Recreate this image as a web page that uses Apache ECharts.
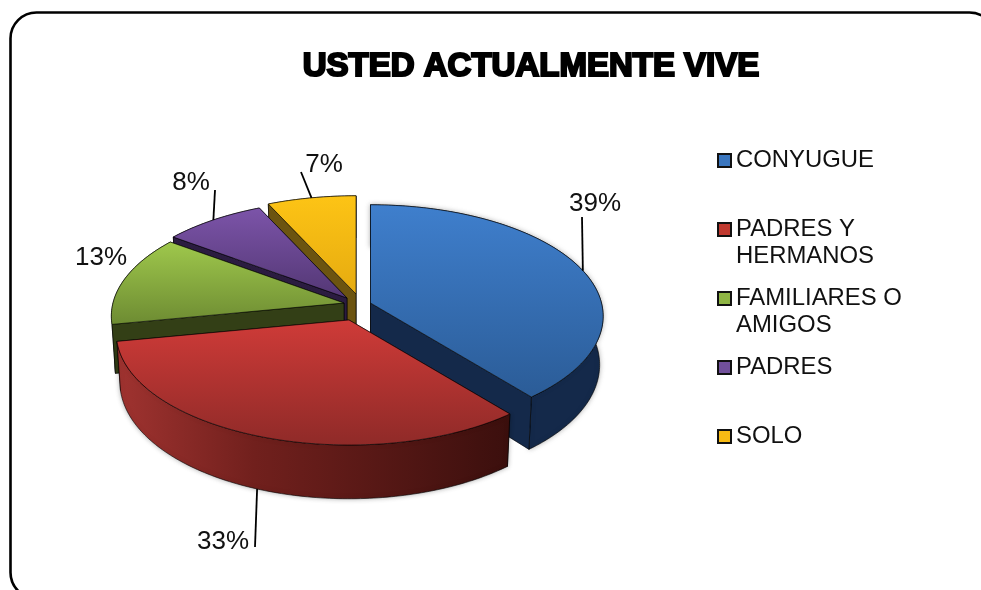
<!DOCTYPE html>
<html><head><meta charset="utf-8">
<style>html,body{margin:0;padding:0;background:#fff}#c{width:981px;height:590px}</style>
<script src="https://cdn.jsdelivr.net/npm/echarts@6/dist/echarts.min.js"></script>
</head><body><div id="c"></div>
<script>
const categories = ['CONYUGUE','PADRES Y\nHERMANOS','FAMILIARES O\nAMIGOS','PADRES','SOLO'];
const values = [39,33,13,8,7];
const titleText = 'USTED ACTUALMENTE VIVE';

// Look of each slice: top-face gradient, wall colour
const topColors = [['#3f7fcd','#2b5c97'],['#cf3b38','#8f2a28'],['#9fc84c','#6d8b32'],['#7c54a9','#533774'],['#fdc415','#e6ab10']];
const legendColors = ['#3a76bf','#c0392f','#8fb544','#71509b','#f8bb14'];
const wallColors = ['#14294a','#6b1d1a','#333f16','#2b1c40','#6c5410'];
// Exploded apex of each slice, leader tips and label centres (layout only)
const apexes = [[370.5,303],[349,320],[344,303],[347,298],[356,294]];
const leaderEnds = [[582,217],[255,547],null,[215,190],[301,172]];
const leaderAngleShift = [2.3,1.5,0,0,0];
const labelCenters = [[595,204],[223,542],[101,258],[191,183],[324,165]];
const RX = 231, RY = 111.6, K = 0.12, DEPTH = 48, BOTTOM_SCALE = 0.985;
const FONT = '"Liberation Sans", Arial, sans-serif';

const total = values.reduce((a,b)=>a+b,0);
const starts = []; values.reduce((acc,v,i)=>{starts[i]=acc; return acc+v/total*360;},0);

function project(i, deg, r, down){
  const t = deg*Math.PI/180, u = Math.sin(t)*r, v = -Math.cos(t)*r, s = 1+K*v;
  return [apexes[i][0]+RX*u*s*(down?BOTTOM_SCALE:1), apexes[i][1]+RY*v*s+(down?DEPTH*s:0)];
}
function renderSlice(i){
  const a0 = starts[i], a1 = a0+values[i]/total*360;
  const wt=[], wb=[];
  for(let a=a0;;a+=1){const d=Math.min(a,a1); wt.push(project(i,d,1,false)); wb.push(project(i,d,1,true)); if(d>=a1)break;}
  const ap = project(i,0,0,false), apB = project(i,0,0,true);
  const edge = {stroke:'rgba(0,0,0,0.75)', lineWidth:0.8};
  const wall = {fill:wallColors[i], ...edge};
  const outerFill = i===1
    ? {type:'linear',x:0,y:0,x2:1,y2:0,colorStops:[{offset:0,color:'#a03330'},{offset:.35,color:'#71201d'},{offset:1,color:'#3b0f0d'}]}
    : wallColors[i];
  const shadow = i<2 ? {shadowBlur:5,shadowColor:'rgba(0,0,0,0.3)'} : {};
  const startFace = {type:'polygon',shape:{points:[ap,wt[0],wb[0],apB]},style:wall};
  const endFace = {type:'polygon',shape:{points:[ap,wt[wt.length-1],wb[wb.length-1],apB]},style:wall};
  const startFront = Math.sin(a0*Math.PI/180) < -1e-6;
  const endFront = Math.sin(a1*Math.PI/180) > 1e-6;
  const children = [];
  if(!startFront) children.push(startFace);
  if(!endFront) children.push(endFace);
  children.push({type:'polygon',shape:{points:wt.concat(wb.slice().reverse())},style:{fill:outerFill,...edge,...shadow}});
  if(endFront) children.push(endFace);
  if(startFront) children.push(startFace);
  children.push({type:'polygon',shape:{points:[ap].concat(wt)},
     style:{fill:{type:'linear',x:0,y:0,x2:0,y2:1,colorStops:[{offset:0,color:topColors[i][0]},{offset:1,color:topColors[i][1]}]},...edge}});
  if(leaderEnds[i]){
    const mid=(a0+a1)/2+leaderAngleShift[i], onFront = Math.cos(mid*Math.PI/180)<-0.5;
    const p = project(i,mid,1,onFront);
    children.push({type:'polyline',shape:{points:[p,leaderEnds[i]]},style:{stroke:'#000',lineWidth:1.8,fill:null}});
  }
  children.push({type:'text',x:labelCenters[i][0],y:labelCenters[i][1],
    style:{text:values[i]+'%',fill:'#111',font:'26px '+FONT,align:'center',verticalAlign:'middle'}});
  return {type:'group',children};
}

const zOrder = [6,8,5,4,3];
const chart = echarts.init(document.getElementById('c'),null,{renderer:'canvas'});
chart.setOption({
  animation:false,
  backgroundColor:'#fff',
  title:{text:titleText,left:526,top:45,textAlign:'center',
    textStyle:{color:'#000',fontFamily:FONT,fontSize:33,fontWeight:'bold',textBorderColor:'#000',textBorderWidth:2.2}},
  legend:{orient:'vertical',left:712,top:115,icon:'rect',itemWidth:13,itemHeight:13,itemGap:-12,
    data:categories,selectedMode:false,
    formatter:n=>n.indexOf('\n')>=0?'\n'+n:'\n'+n+'\n ',
    itemStyle:{borderColor:'#111',borderWidth:2},
    textStyle:{color:'#111',fontFamily:FONT,fontSize:23.9,lineHeight:27}},
  graphic:[{type:'rect',z:-1,shape:{x:10.5,y:12.5,width:985,height:586,r:26},style:{fill:'#fff',stroke:'#000',lineWidth:2.6}}],
  series:categories.map((name,i)=>({
    type:'custom',name,coordinateSystem:'none',z:zOrder[i],clip:false,silent:true,
    itemStyle:{color:legendColors[i]},
    data:[[values[i]]],
    renderItem:()=>renderSlice(i)
  }))
});
</script></body></html>
